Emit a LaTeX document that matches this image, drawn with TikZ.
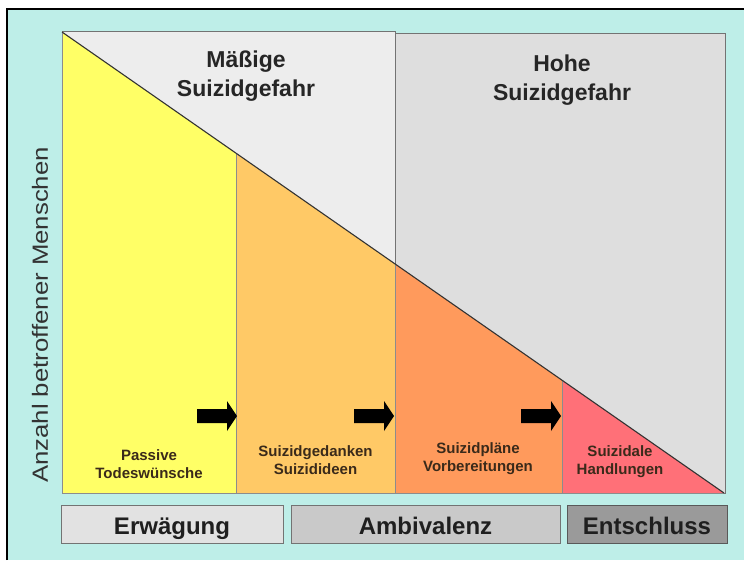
\documentclass[tikz,border=0pt]{standalone}
\usepackage{fontspec}
\setmainfont{Liberation Sans}
\definecolor{bgteal}{HTML}{BEEEE8}
\definecolor{boxlight}{HTML}{EDEDED}
\definecolor{boxgray}{HTML}{DEDEDE}
\definecolor{cyellow}{HTML}{FFFF66}
\definecolor{clorange}{HTML}{FFC966}
\definecolor{corange}{HTML}{FF9A5C}
\definecolor{cpink}{HTML}{FF7078}
\definecolor{bxa}{HTML}{E2E2E2}
\definecolor{bxb}{HTML}{C9C9C9}
\definecolor{bxc}{HTML}{9A9A9A}
\definecolor{labbrown}{HTML}{3A2A1A}
\tikzset{
  framebox/.style={draw=black!55, line width=0.9pt},
  sepline/.style={draw=black!45, line width=0.7pt},
  title/.style={font=\fontsize{23}{29}\selectfont\bfseries, text=black!85, align=center, inner sep=0pt},
  stagelab/.style={font=\fontsize{15}{18}\selectfont\bfseries, text=labbrown, align=center, inner sep=0pt},
  phasebox/.style={draw=black!55, line width=0.9pt, minimum height=38pt, inner sep=0pt,
    font=\fontsize{24}{24}\selectfont\bfseries, text=black!88, text height=20pt, text depth=0pt},
  blockarrow/.pic={\fill[black] (-20,-7) -- (10,-7) -- (10,-15) -- (20,0) -- (10,15) -- (10,7) -- (-20,7) -- cycle;}
}
\begin{document}
\begin{tikzpicture}[x=1pt,y=-1pt]
\useasboundingbox (0,0) rectangle (744,560);
\fill[white] (0,0) rectangle (744,560);
\fill[bgteal] (7,9) rectangle (744,560);
\draw[black, line width=1.6pt] (7,560) -- (7,9) -- (744,9);

% risk areas
\draw[framebox, fill=boxlight] (62,31) rectangle (395,300);
\draw[framebox, fill=boxgray] (395,33) rectangle (725,493);

% coordinates on the diagonal
\coordinate (d0) at (62,32);
\coordinate (d1) at (236,153.2);
\coordinate (d2) at (395,263.9);
\coordinate (d3) at (562,380.2);
\coordinate (d4) at (724,493);
\coordinate (b0) at (62,493);
\coordinate (b1) at (236,493);
\coordinate (b2) at (395,493);
\coordinate (b3) at (562,493);

\fill[cyellow] (d0) -- (d1) -- (b1) -- (b0) -- cycle;
\fill[clorange] (d1) -- (d2) -- (b2) -- (b1) -- cycle;
\fill[corange] (d2) -- (d3) -- (b3) -- (b2) -- cycle;
\fill[cpink] (d3) -- (d4) -- (b3) -- cycle;
\draw[sepline] (d1) -- (b1);
\draw[sepline] (d2) -- (b2);
\draw[sepline] (d3) -- (b3);
\draw[sepline] (d0) -- (b0) -- (d4);
\draw[black!80, line width=1.1pt] (d0) -- (d4);

% titles
\node[title] (mt) at (246,76) {Mäßige\\Suizidgefahr};
\node[title] (ht) at (562,80.6) {Hohe\\Suizidgefahr};

% stage labels
\node[stagelab] (s1) at (149,463.7) {Passive\\Todeswünsche};
\node[stagelab] (s2) at (315.5,460.5) {Suizidgedanken\\Suizidideen};
\node[stagelab] (s3) at (478,458.6) {Suizidpläne\\Vorbereitungen};
\node[stagelab] (s4) at (620,462) {Suizidale\\Handlungen};

% block arrows
\pic at (217,416) {blockarrow};
\pic at (374,416) {blockarrow};
\pic at (541,416) {blockarrow};

% y axis label
\node[rotate=90, inner sep=0pt, text=black!80] (yl) at (40,315)
  {\scalebox{1.17}[1]{\fontsize{22}{22}\selectfont Anzahl betroffener Menschen}};

% phase boxes
\node[phasebox, fill=bxa, minimum width=222pt] (p1) at (172,524) {Erwägung};
\node[phasebox, fill=bxb, minimum width=269pt] (p2) at (425.5,524) {Ambivalenz};
\node[phasebox, fill=bxc, draw=black!65, minimum width=160pt] (p3) at (647,524) {Entschluss};
\end{tikzpicture}
\end{document}
